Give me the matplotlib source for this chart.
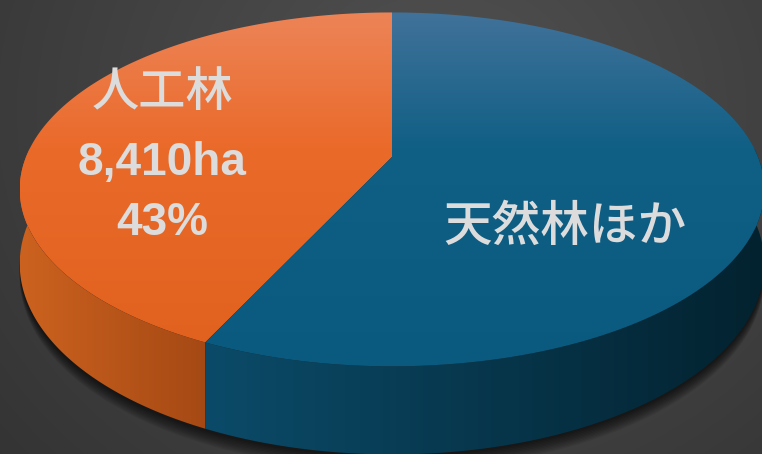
import numpy as np
import matplotlib.pyplot as plt
from matplotlib.patches import Polygon
from matplotlib.colors import LinearSegmentedColormap

plt.rcParams['font.family'] = ['Noto Sans CJK JP', 'DejaVu Sans']

# データ
labels = ['人工林', '天然林ほか']
shares = [43, 57]          # %
area_jinkou = 8410         # ha

# 上面 (上, 中, 下) と側面 (左, 右) の色
top_colors = [('#ed8457', '#ea6a2a', '#e0601d'), ('#41729a', '#105f85', '#0a5a80')]
side_colors = [('#cc621f', '#a54914'), ('#0b4b69', '#03222f')]

W, H = 762, 454
fig = plt.figure(figsize=(W / 100, H / 100), dpi=100)
ax = fig.add_axes([0, 0, 1, 1])
ax.set_xlim(0, W)
ax.set_ylim(H, 0)
ax.axis('off')

# 背景 (放射グラデーション)
yy, xx = np.mgrid[0:H, 0:W]
r = np.hypot(xx - 440, (yy - 110) / 0.9)
g = np.clip(r / 650, 0, 1)
bg = 0.32 - 0.13 * g
ax.imshow(np.dstack([bg, bg, bg]), extent=[0, W, H, 0], zorder=0, aspect='auto')

# 3D円グラフの透視投影
cx, cy = 392, 157
A, B, k = 366, 171, 0.183
depth = 72


def proj(t, drop=0.0):
    u, v = np.cos(t), np.sin(t)
    d = 1 + k * v
    return cx + A * u / d, cy - B * v / d + drop / d


def grad_fill(poly, cols, vertical=True, z=1):
    if len(cols) == 3:
        cmap = LinearSegmentedColormap.from_list('g', [(0, cols[0]), (0.38, cols[1]), (1, cols[2])])
    else:
        cmap = LinearSegmentedColormap.from_list('g', list(cols))
    xs, ys = poly[:, 0], poly[:, 1]
    x0, x1 = xs.min(), xs.max()
    y0, y1 = (12, 370) if vertical else (ys.min(), ys.max())
    grad = np.linspace(0, 1, 256)
    img = grad[:, None] if vertical else grad[None, :]
    patch = Polygon(poly, closed=True, facecolor='none', edgecolor='none')
    ax.add_patch(patch)
    im = ax.imshow(img, cmap=cmap, extent=[x0, x1, y1, y0], aspect='auto',
                   zorder=z, interpolation='bilinear')
    im.set_clip_path(patch)


# 角度 (上から反時計回り)
fr = np.array(shares) / sum(shares)
starts = np.pi / 2 + 2 * np.pi * np.concatenate([[0], np.cumsum(fr)[:-1]])
ends = starts + 2 * np.pi * fr

# 影
tt = np.linspace(0, 2 * np.pi, 400)
for i in range(10):
    sx, sy = proj(tt, depth + 2 + i * 1.2)
    ax.add_patch(Polygon(np.column_stack([sx, sy]), closed=True,
                         facecolor='black', edgecolor='none', alpha=0.08, zorder=0.5))

# 側面
for s, e, cols in zip(starts, ends, side_colors):
    lo, hi = max(s, np.pi - 0.05), min(e, 2 * np.pi + 0.05)
    if hi <= lo:
        continue
    t = np.linspace(lo, hi, 200)
    tx, ty = proj(t)
    bx, by = proj(t[::-1], depth)
    poly = np.column_stack([np.concatenate([tx, bx]), np.concatenate([ty, by])])
    grad_fill(poly, cols, vertical=False, z=1)

# 上面
for s, e, cols in zip(starts, ends, top_colors):
    t = np.linspace(s, e, 300)
    tx, ty = proj(t)
    poly = np.vstack([[cx, cy], np.column_stack([tx, ty])])
    grad_fill(poly, cols, vertical=True, z=2)

# ラベル
tc = '#dcdcdc'
ax.text(163, 92, labels[0], ha='center', va='center', fontsize=34,
        color=tc, fontweight='medium', zorder=5)
ax.text(162, 163, f'{area_jinkou:,}ha', ha='center', va='center', fontsize=33,
        color=tc, fontweight='bold', family=['Liberation Sans', 'DejaVu Sans'], zorder=5)
ax.text(162, 223, f'{shares[0]}%', ha='center', va='center', fontsize=33,
        color=tc, fontweight='bold', family=['Liberation Sans', 'DejaVu Sans'], zorder=5)
ax.text(565, 227, labels[1], ha='center', va='center', fontsize=35,
        color=tc, fontweight='medium', zorder=5)

fig.savefig('out.png', dpi=100)
